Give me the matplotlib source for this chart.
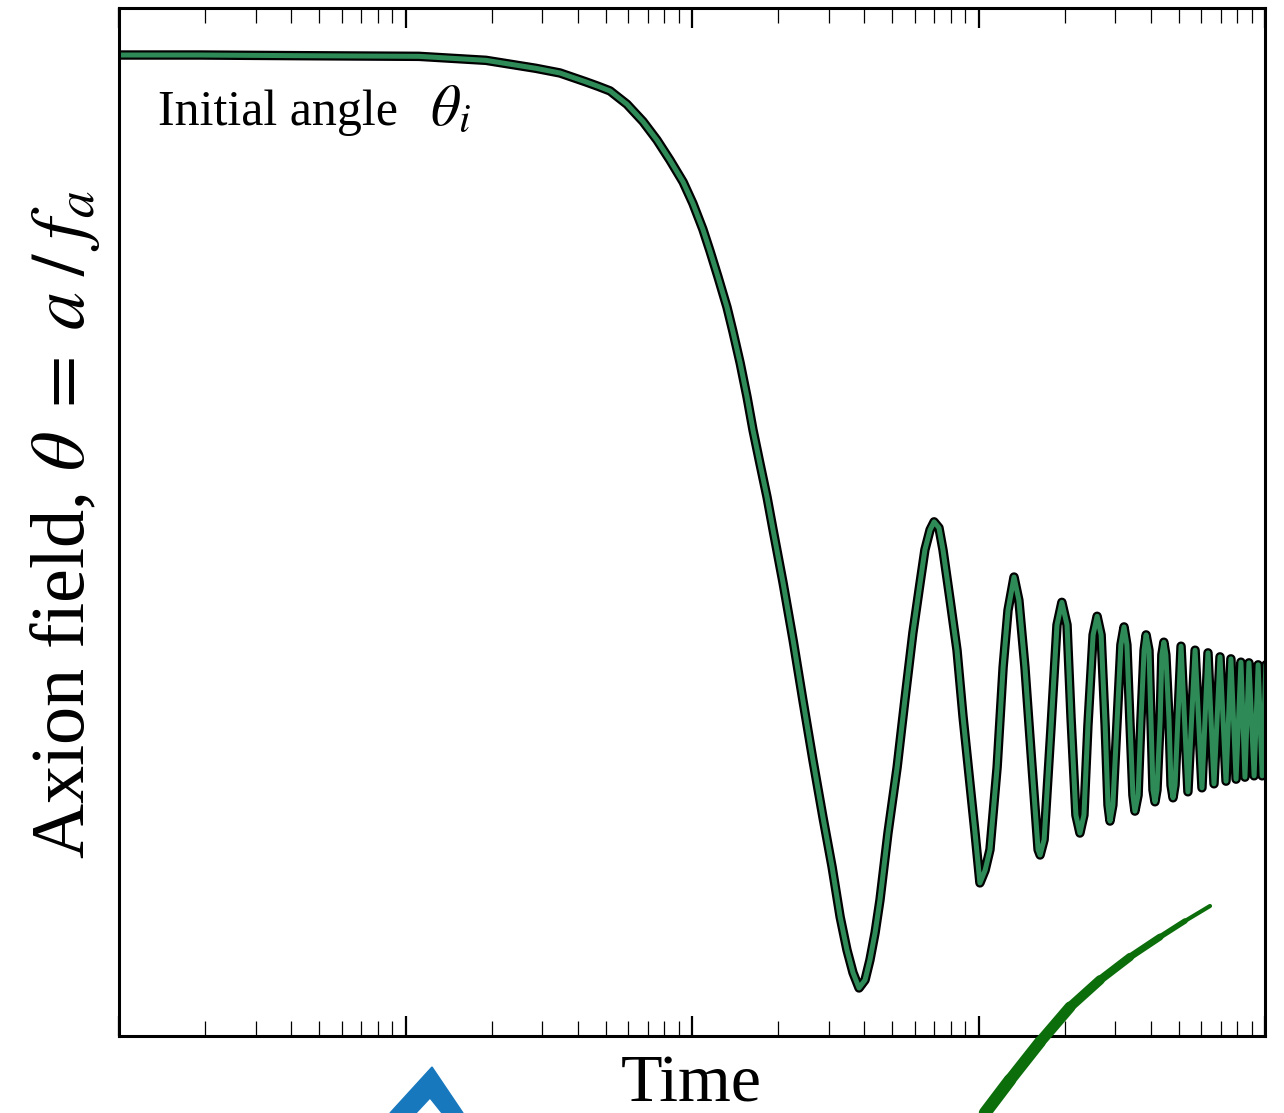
import matplotlib
matplotlib.use('Agg')
import matplotlib.pyplot as plt
import matplotlib.patheffects as pe
from matplotlib.lines import Line2D
from matplotlib.patches import Polygon

plt.rcParams['font.family'] = ['Liberation Serif', 'DejaVu Serif']
plt.rcParams['mathtext.fontset'] = 'stix'

# values
# time is read as decades on the log axis (10**0 at the middle major tick),
# theta in units of the initial angle (plateau = 1)
time_decade = [
    -2.000, -1.717, -1.368, -0.953, -0.719, -0.545, -0.461, -0.373, -0.328, -0.286,
    -0.227, -0.171, -0.122, -0.077, -0.031, 0.003, 0.038, 0.063, 0.091, 0.122,
    0.143, 0.168, 0.192, 0.213, 0.237, 0.262, 0.283, 0.318, 0.353, 0.387,
    0.422, 0.457, 0.489, 0.517, 0.541, 0.562, 0.583, 0.604, 0.621, 0.639,
    0.656, 0.684, 0.716, 0.743, 0.771, 0.796, 0.813, 0.831, 0.845, 0.862,
    0.876, 0.901, 0.925, 0.946, 0.970, 0.988, 1.005, 1.023, 1.040, 1.065,
    1.086, 1.103, 1.124, 1.141, 1.162, 1.187, 1.208, 1.215, 1.229, 1.253,
    1.274, 1.291, 1.309, 1.323, 1.340, 1.354, 1.368, 1.382, 1.400, 1.414,
    1.428, 1.442, 1.452, 1.459, 1.469, 1.483, 1.497, 1.508, 1.518, 1.529,
    1.539, 1.546, 1.557, 1.567, 1.578, 1.585, 1.595, 1.602, 1.609, 1.616,
    1.623, 1.634, 1.640, 1.647, 1.654, 1.665, 1.672, 1.679, 1.686, 1.707,
    1.731, 1.756, 1.780, 1.801, 1.822, 1.843, 1.864, 1.881, 1.899, 1.916,
    1.930, 1.944, 1.962, 1.976, 1.990, 2.003]
theta = [
    1.000, 1.000, 0.999, 0.998, 0.992, 0.980, 0.973, 0.960, 0.953, 0.946,
    0.926, 0.900, 0.872, 0.842, 0.809, 0.777, 0.738, 0.705, 0.666, 0.621,
    0.584, 0.537, 0.486, 0.436, 0.386, 0.335, 0.286, 0.206, 0.120, 0.030,
    -0.060, -0.146, -0.221, -0.296, -0.346, -0.380, -0.403, -0.391, -0.361, -0.320,
    -0.271, -0.170, -0.071, 0.030, 0.131, 0.206, 0.256, 0.286, 0.298, 0.289,
    0.256, 0.180, 0.105, 0.005, -0.095, -0.170, -0.245, -0.226, -0.195, -0.071,
    0.080, 0.165, 0.215, 0.180, 0.080, -0.071, -0.195, -0.203, -0.180, -0.012,
    0.143, 0.177, 0.143, 0.003, -0.143, -0.170, -0.143, -0.008, 0.128, 0.156,
    0.128, -0.008, -0.128, -0.152, -0.128, -0.008, 0.113, 0.140, 0.113, -0.008,
    -0.113, -0.137, -0.113, 0.000, 0.105, 0.128, 0.105, 0.000, -0.105, -0.123,
    -0.105, 0.000, 0.098, 0.117, 0.098, 0.000, -0.098, -0.117, -0.098, 0.111,
    -0.108, 0.105, -0.102, 0.101, -0.096, 0.095, -0.092, 0.092, -0.089, 0.087,
    -0.086, 0.086, -0.084, 0.083, -0.084, 0.083]
time = [10 ** d for d in time_decade]

x_label = 'Time'
y_label = r'Axion field, $\theta\;=\;a\;/\;f_a$'
note = 'Initial angle'
note_sym = r'$\theta_i$'

# hand-drawn marks over the slide (figure pixels, origin top-left)
green_stroke = [(985, 1113), (1010, 1080), (1040, 1042), (1070, 1007), (1100, 980),
                (1130, 957), (1160, 937), (1185, 921), (1210, 906)]
green_widths = [9, 8.5, 8, 7, 6, 5, 4, 3]
blue_mark = [(390, 1113), (432, 1067), (463, 1113), (442, 1113), (430, 1098),
             (416, 1113)]

W, H = 1284, 1113
fig = plt.figure(figsize=(W / 100, H / 100), dpi=100)
ax = fig.add_axes([119 / W, 1 - 1036 / H, (1265 - 119) / W, (1036 - 8) / H])

ax.plot(time, theta, color='#2e8b57', lw=3.6, solid_joinstyle='round',
        solid_capstyle='round',
        path_effects=[pe.Stroke(linewidth=6.8, foreground='black'), pe.Normal()])

ax.set_xscale('log')
ax.set_xlim(0.01, 100)
ax.set_ylim(-0.4752, 1.0707)
ax.set_yticks([])
ax.tick_params(axis='x', which='both', direction='in', top=True, bottom=True,
               labelbottom=False)
ax.tick_params(axis='x', which='major', length=14.5, width=1.6)
ax.tick_params(axis='x', which='minor', length=10.5, width=0.9)
for s in ax.spines.values():
    s.set_linewidth(2.2)

fig.text(691 / W, 1 - 1101 / H, x_label, fontsize=49, ha='center', va='baseline')
fig.text(84 / W, 1 - 525 / H, y_label, fontsize=55, rotation=90,
         rotation_mode='anchor', ha='center', va='baseline')
fig.text(158 / W, 1 - 125 / H, note, fontsize=36, ha='left', va='baseline')
fig.text(430 / W, 1 - 125 / H, note_sym, fontsize=42, ha='left', va='baseline')

# overlay doodles: a tapering green brush stroke and a blue chevron
for i, lw in enumerate(green_widths):
    seg = green_stroke[i:i + 2]
    fig.add_artist(Line2D([p[0] / W for p in seg], [1 - p[1] / H for p in seg],
                          color='#0b6e0b', lw=lw, solid_capstyle='round',
                          transform=fig.transFigure))
fig.add_artist(Polygon([(p[0] / W, 1 - p[1] / H) for p in blue_mark],
                       closed=True, color='#1878be', transform=fig.transFigure))

fig.savefig('out.png', dpi=100)
